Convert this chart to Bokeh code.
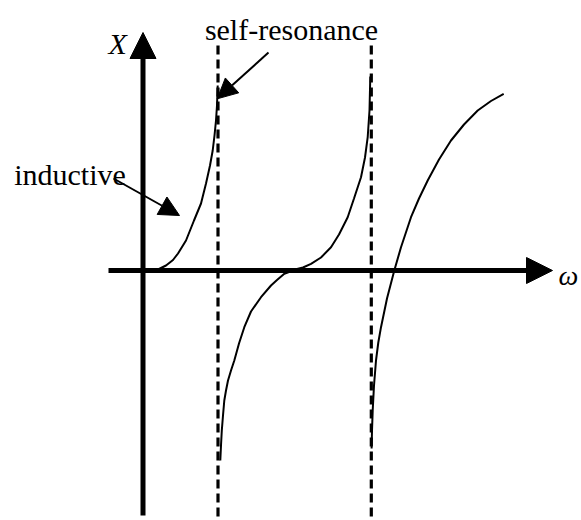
from bokeh.plotting import figure
from bokeh.models import Arrow, NormalHead, Range1d, Label
from bokeh.embed import file_html
from bokeh.resources import INLINE

# Reactance X(omega) sketch: inductive rise, self-resonances, alternating branches.
# Branch points in (omega, X) diagram units.
branch1_w = [10, 15, 23, 30, 35, 43, 51, 58, 63, 67, 69.7, 71.5, 73, 74, 74.7]
branch1_x = [0, 1, 5, 10.5, 17, 30, 50, 67, 87, 105, 120, 135, 150, 165, 185]

branch2_w = [77.3, 78.0, 78.8, 80, 81.3, 83, 85, 88, 91.3, 96, 101.3, 108, 118, 128, 134, 141.3, 148, 152, 160, 168, 178, 188, 196, 204.7, 211, 218, 222, 224.7, 226.5, 227.3]
branch2_x = [-190, -175, -160, -145, -130, -120, -110, -100, -90, -73, -56.7, -41, -26.7, -15, -9.5, -3.3, -0.7, 1, 3, 6.7, 13, 23.3, 36, 53.3, 72, 93.3, 113, 133.3, 160, 194]

branch3_w = [228.6, 229.0, 229.7, 231, 233, 235.3, 238, 244, 251.3, 258, 268, 276, 284.7, 296, 308, 321, 334.7, 348, 360.7]
branch3_x = [-178, -160, -140, -115, -90, -72, -56.7, -28, 0, 23.3, 53.3, 72, 90, 111, 130, 146, 160, 169.5, 176.7]

# self-resonance frequencies (dashed asymptotes)
resonance_w = [75, 228.3]

p = figure(width=581, height=520, x_range=Range1d(-142.5, 438.5), y_range=Range1d(-250, 270),
           output_backend="svg", toolbar_location=None, min_border=0,
           x_axis_type=None, y_axis_type=None)
p.grid.visible = False
p.outline_line_color = None
p.background_fill_color = "white"
p.border_fill_color = "white"

# dashed resonance lines
for w in resonance_w:
    p.line([w, w], [225, -252], line_color="black", line_width=3.2, line_dash="9 5")

# reactance branches
for ws, xs in ((branch1_w, branch1_x), (branch2_w, branch2_x), (branch3_w, branch3_x)):
    p.line(ws, xs, line_color="black", line_width=2)

# coordinate axes with arrowheads
p.add_layout(Arrow(end=NormalHead(size=26, fill_color="black", line_color="black"),
                   x_start=-34.5, y_start=0, x_end=409.5, y_end=0,
                   line_color="black", line_width=5))
p.add_layout(Arrow(end=NormalHead(size=26, fill_color="black", line_color="black"),
                   x_start=0, y_start=-245, x_end=0, y_end=238,
                   line_color="black", line_width=5))

# annotation arrows
p.add_layout(Arrow(end=NormalHead(size=20, fill_color="black", line_color="black"),
                   x_start=125.5, y_start=218, x_end=74.2, y_end=171.7,
                   line_color="black", line_width=2))
p.add_layout(Arrow(end=NormalHead(size=20, fill_color="black", line_color="black"),
                   x_start=-29.5, y_start=92, x_end=36.5, y_end=55,
                   line_color="black", line_width=2))

font = "Liberation Serif"
p.add_layout(Label(x=148.5, y=241, text="self-resonance", text_font=font, text_font_size="30px",
                   text_align="center", text_baseline="alphabetic", text_color="black"))
p.add_layout(Label(x=-73, y=96, text="inductive", text_font=font, text_font_size="30px",
                   text_align="center", text_baseline="alphabetic", text_color="black"))
p.add_layout(Label(x=-34.5, y=227, text="X", text_font=font, text_font_size="30px",
                   text_font_style="italic", text_align="left", text_baseline="alphabetic",
                   text_color="black"))
p.add_layout(Label(x=415.5, y=-5, text="ω", text_font=font, text_font_size="28px",
                   text_font_style="italic", text_align="left", text_baseline="alphabetic",
                   text_color="black"))

open("out.html", "w").write(file_html(p, INLINE))
